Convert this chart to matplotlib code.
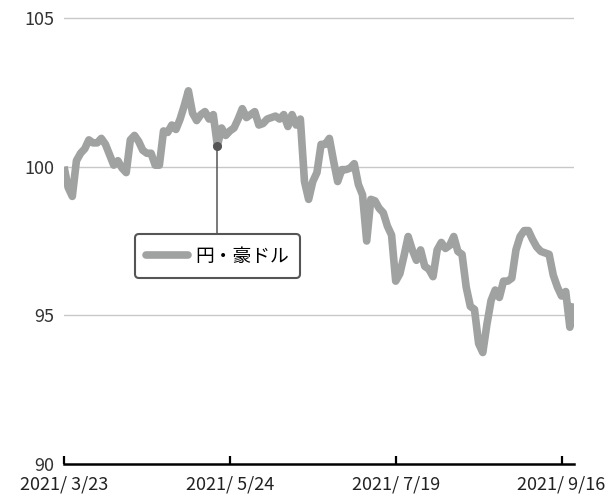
import numpy as np
import matplotlib
matplotlib.use('Agg')
import matplotlib.pyplot as plt
from matplotlib.lines import Line2D

plt.rcParams['font.family'] = ['Noto Sans CJK JP', 'DejaVu Sans']

# trading-day index based series (2021/3/23 .. 2021/9/22)
values = [
    100.0, 99.3, 99.0, 100.2, 100.45, 100.6, 100.9, 100.8, 100.8, 100.95,
    100.75, 100.4, 100.05, 100.2, 99.95, 99.8, 100.9, 101.05, 100.85, 100.55,
    100.45, 100.45, 100.05, 100.05, 101.2, 101.15, 101.4, 101.25, 101.6, 102.05,
    102.55, 101.8, 101.55, 101.75, 101.85, 101.6, 101.75, 100.7, 101.3, 101.05,
    101.2, 101.3, 101.6, 101.95, 101.65, 101.75, 101.85, 101.4, 101.45, 101.6,
    101.65, 101.7, 101.6, 101.75, 101.35, 101.75, 101.4, 101.6, 99.5, 98.9,
    99.5, 99.8, 100.75, 100.75, 100.95, 100.2, 99.5, 99.9, 99.9, 99.95,
    100.1, 99.4, 99.05, 97.5, 98.9, 98.85, 98.6, 98.45, 98.0, 97.7,
    96.15, 96.4, 97.0, 97.65, 97.2, 96.85, 97.2, 96.65, 96.55, 96.3,
    97.2, 97.45, 97.25, 97.35, 97.65, 97.15, 97.05, 95.95, 95.3, 95.2,
    94.05, 93.75, 94.7, 95.5, 95.85, 95.6, 96.15, 96.15, 96.25, 97.2,
    97.65, 97.85, 97.85, 97.55, 97.3, 97.15, 97.1, 97.05, 96.35, 95.95,
    95.65, 95.8, 94.6, 95.4,
]
tick_idx = [0, 40, 80, 120]
tick_labels = ['2021/ 3/23', '2021/ 5/24', '2021/ 7/19', '2021/ 9/16']
y_ticks = [90, 95, 100, 105]
series_name = '円・豪ドル'
note_idx = 37

line_color = '#a0a2a1'

fig = plt.figure(figsize=(6.16, 4.97), dpi=100)
ax = fig.add_axes([64 / 616, 1 - 464 / 497, 510 / 616, 449 / 497])

x = np.arange(len(values))
ax.plot(x, values, color=line_color, linewidth=5.5,
        solid_capstyle='butt', solid_joinstyle='round', zorder=3)

ax.set_xlim(0, len(values) - 1)
ax.set_ylim(90, 105.1)

for yv in y_ticks[1:]:
    ax.axhline(yv, color='#c8c8c8', linewidth=1.0, zorder=1)

ax.set_yticks(y_ticks)
ax.set_yticklabels([str(v) for v in y_ticks])
ax.tick_params(axis='y', length=0, pad=7, labelsize=13, labelcolor='#333333')

ax.set_xticks(tick_idx)
ax.set_xticklabels(tick_labels)
ax.tick_params(axis='x', direction='in', length=5.5, width=1.6, color='black',
               pad=8, labelsize=13, labelcolor='#222222')

for s in ['top', 'right', 'left']:
    ax.spines[s].set_visible(False)
ax.spines['bottom'].set_linewidth(1.8)
ax.spines['bottom'].set_color('black')

# annotation: dot + leader line down to the legend box
ax.plot([note_idx], [values[note_idx]], 'o', color='#555555', markersize=5.5, zorder=5)
ax.plot([note_idx, note_idx], [values[note_idx], 96.95], color='#555555',
        linewidth=1.1, zorder=4)

handle = Line2D([], [], color=line_color, linewidth=5.5, solid_capstyle='round')
leg = ax.legend([handle], [series_name], loc='center', bbox_to_anchor=(0.301, 0.463),
                frameon=True, fancybox=True, fontsize=13.5, handlelength=2.2,
                handletextpad=0.4, borderpad=0.6, edgecolor='#555555',
                framealpha=1)
leg.get_frame().set_linewidth(1.5)
leg.set_zorder(6)

fig.savefig('out.png', dpi=100)
